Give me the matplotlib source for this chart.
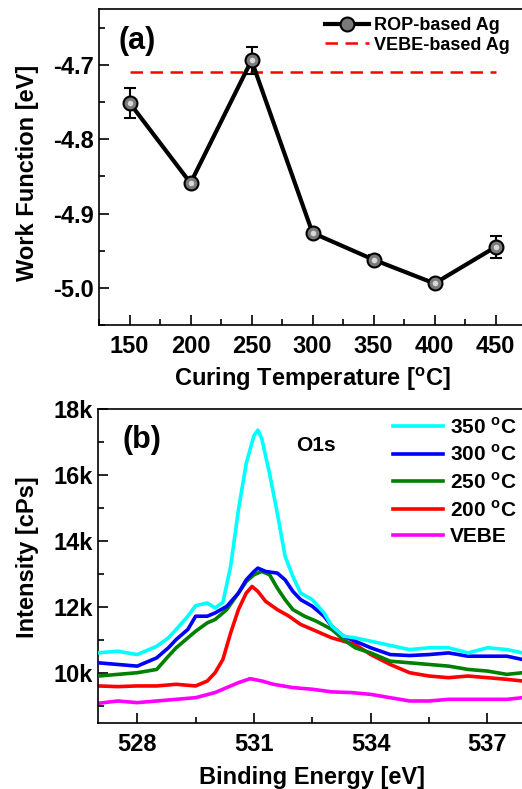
import numpy as np
import matplotlib
matplotlib.use("Agg")
import matplotlib.pyplot as plt
from matplotlib.ticker import MultipleLocator, FormatStrFormatter, FuncFormatter

plt.rcParams['font.family'] = ['Liberation Sans', 'DejaVu Sans']
plt.rcParams['font.weight'] = 'bold'
plt.rcParams['axes.labelweight'] = 'bold'
plt.rcParams['axes.unicode_minus'] = False

# (a) work function vs curing temperature
temps = [150, 200, 250, 300, 350, 400, 450]
wf = [-4.751, -4.859, -4.694, -4.926, -4.962, -4.994, -4.945]
wf_err = [0.020, 0.004, 0.018, 0.003, 0.006, 0.004, 0.015]
vebe_wf = -4.709

# (b) O1s XPS spectra
e_350 = [527.0, 527.5, 528.0, 528.5, 528.8, 529.0, 529.3, 529.5, 529.8, 530.0, 530.2, 530.4,
         530.6, 530.8, 531.0, 531.1, 531.2, 531.4, 531.6, 531.8, 532.0, 532.2, 532.5, 532.8,
         533.0, 533.3, 533.6, 534.0, 534.5, 535.0, 535.5, 536.0, 536.5, 537.0, 537.5, 537.9]
i_350 = [10623, 10670, 10570, 10820, 11075, 11330, 11730, 12050, 12130, 11980, 12150, 13240,
         14950, 16350, 17200, 17360, 17100, 16050, 14840, 13540, 12930, 12430, 12230, 11830,
         11430, 11125, 11075, 10975, 10845, 10720, 10775, 10775, 10620, 10775, 10720, 10620]

e_300 = [527.0, 527.5, 528.0, 528.5, 528.8, 529.0, 529.3, 529.5, 529.8, 530.0, 530.3, 530.6,
         530.8, 531.0, 531.1, 531.3, 531.6, 531.8, 532.0, 532.2, 532.5, 532.8, 533.0, 533.3,
         533.6, 534.0, 534.5, 535.0, 535.5, 536.0, 536.5, 537.0, 537.5, 537.9]
i_300 = [10320, 10270, 10220, 10470, 10775, 11025, 11330, 11730, 11730, 11830, 12030, 12430,
         12830, 13085, 13185, 13085, 13035, 12830, 12480, 12230, 12030, 11730, 11430, 11125,
         10975, 10775, 10570, 10540, 10570, 10620, 10520, 10520, 10520, 10420]

e_250 = [527.0, 527.5, 528.0, 528.5, 528.8, 529.0, 529.3, 529.5, 529.8, 530.0, 530.3, 530.6,
         530.8, 531.0, 531.2, 531.4, 531.6, 531.8, 532.0, 532.3, 532.6, 533.0, 533.3, 533.6,
         534.0, 534.5, 535.0, 535.5, 536.0, 536.5, 537.0, 537.5, 537.9]
i_250 = [9920, 9970, 10020, 10120, 10520, 10775, 11075, 11275, 11530, 11630, 11930, 12430,
         12780, 12985, 13085, 12985, 12580, 12230, 11930, 11730, 11580, 11330, 11025, 10775,
         10620, 10370, 10320, 10270, 10220, 10120, 10070, 9970, 10020]

e_200 = [527.0, 527.5, 528.0, 528.5, 529.0, 529.5, 529.8, 530.0, 530.2, 530.4, 530.6, 530.8,
         530.95, 531.1, 531.3, 531.6, 531.9, 532.2, 532.5, 532.8, 533.0, 533.3, 533.6, 534.0,
         534.5, 535.0, 535.5, 536.0, 536.5, 537.0, 537.5, 537.9]
i_200 = [9620, 9600, 9620, 9620, 9670, 9620, 9770, 10020, 10420, 11225, 11930, 12430,
         12630, 12480, 12180, 11930, 11730, 11480, 11330, 11175, 11075, 10975, 10875, 10570,
         10270, 10020, 9920, 9870, 9920, 9870, 9820, 9770]

e_vebe = [527.0, 527.5, 528.0, 528.5, 529.0, 529.5, 530.0, 530.3, 530.6, 530.9, 531.2, 531.5,
          532.0, 532.5, 533.0, 533.5, 534.0, 534.5, 535.0, 535.5, 536.0, 536.5, 537.0, 537.5, 537.9]
i_vebe = [9095, 9165, 9115, 9165, 9215, 9265, 9420, 9570, 9720, 9840, 9770, 9670,
          9570, 9520, 9440, 9420, 9365, 9265, 9165, 9165, 9215, 9215, 9215, 9215, 9265]

fig = plt.figure(figsize=(5.22, 7.89), dpi=100)

# ---- panel (a)
ax1 = fig.add_axes([0.1897, 0.588, 0.818, 0.4005])
rop, = ax1.plot(temps, wf, color='black', lw=3, marker='o', ms=10, mfc='#7a7a7a',
                mec='black', mew=1.5, label='ROP-based Ag', zorder=2)
ax1.errorbar(temps, wf, yerr=wf_err, fmt='none', ecolor='black', elinewidth=1.5,
             capsize=4, capthick=1.5, zorder=1.5)
ax1.plot(temps, wf, ls='none', marker='o', ms=4, mfc='#d8d8d8', mec='none', zorder=3)
vebe, = ax1.plot(temps, [vebe_wf] * len(temps), color='red', lw=1.8, dashes=(5, 3),
                 label='VEBE-based Ag', zorder=1)
ax1.set_xlim(125, 475)
ax1.set_ylim(-5.05, -4.625)
ax1.xaxis.set_major_locator(MultipleLocator(50))
ax1.xaxis.set_minor_locator(MultipleLocator(25))
ax1.yaxis.set_major_locator(MultipleLocator(0.1))
ax1.yaxis.set_minor_locator(MultipleLocator(0.05))
ax1.yaxis.set_major_formatter(FormatStrFormatter('%.1f'))
ax1.set_xlabel('Curing Temperature [$^\\mathregular{o}$C]', fontsize=17, labelpad=5)
ax1.set_ylabel('Work Function [eV]', fontsize=17, labelpad=10)
ax1.yaxis.label.set_y(0.481)
ax1.text(0.09, 0.90, '(a)', transform=ax1.transAxes, fontsize=22, ha='center', va='center')
ax1.legend([rop, vebe], ['ROP-based Ag', 'VEBE-based Ag'], loc='upper left',
           bbox_to_anchor=(0.53, 0.975), frameon=False, fontsize=13, handlelength=2.4,
           handletextpad=0.3, labelspacing=0.15, borderpad=0, borderaxespad=0)

# ---- panel (b)
ax2 = fig.add_axes([0.1884, 0.0837, 0.82, 0.3979])
ax2.plot(e_vebe, i_vebe, color='magenta', lw=2.6, label='VEBE', zorder=1)
ax2.plot(e_200, i_200, color='red', lw=2.6, label='200 $^\\mathregular{o}$C', zorder=2)
ax2.plot(e_250, i_250, color='green', lw=2.6, label='250 $^\\mathregular{o}$C', zorder=3)
ax2.plot(e_300, i_300, color='blue', lw=2.6, label='300 $^\\mathregular{o}$C', zorder=4)
ax2.plot(e_350, i_350, color='cyan', lw=2.6, label='350 $^\\mathregular{o}$C', zorder=5)
ax2.set_xlim(527, 538)
ax2.set_ylim(8500, 18000)
ax2.xaxis.set_major_locator(MultipleLocator(3))
ax2.xaxis.set_minor_locator(MultipleLocator(1.5))
ax2.yaxis.set_major_locator(MultipleLocator(2000))
ax2.yaxis.set_minor_locator(MultipleLocator(1000))
ax2.yaxis.set_major_formatter(FuncFormatter(lambda v, p: '%dk' % round(v / 1000)))
ax2.set_xlabel('Binding Energy [eV]', fontsize=17, labelpad=7)
ax2.set_ylabel('Intensity [cPs]', fontsize=17, labelpad=10)
ax2.yaxis.label.set_y(0.527)
ax2.text(0.101, 0.90, '(b)', transform=ax2.transAxes, fontsize=22, ha='center', va='center')
ax2.text(532.6, 16890, 'O1s', fontsize=15, ha='center', va='center')
h, l = ax2.get_legend_handles_labels()
ax2.legend(h[::-1], l[::-1], loc='upper left', bbox_to_anchor=(0.689, 0.975), frameon=False,
           fontsize=15, handlelength=2.4, handletextpad=0.3, labelspacing=0.33,
           borderpad=0, borderaxespad=0)

for ax in (ax1, ax2):
    for s in ax.spines.values():
        s.set_linewidth(1.2)
    ax.tick_params(which='both', direction='in', width=1.2, labelsize=17)
    ax.tick_params(axis='x', pad=7.5)
    ax.tick_params(axis='y', pad=4)
    ax.tick_params(which='major', length=7)
    ax.tick_params(which='minor', length=4)

fig.savefig('out.png', dpi=100)
